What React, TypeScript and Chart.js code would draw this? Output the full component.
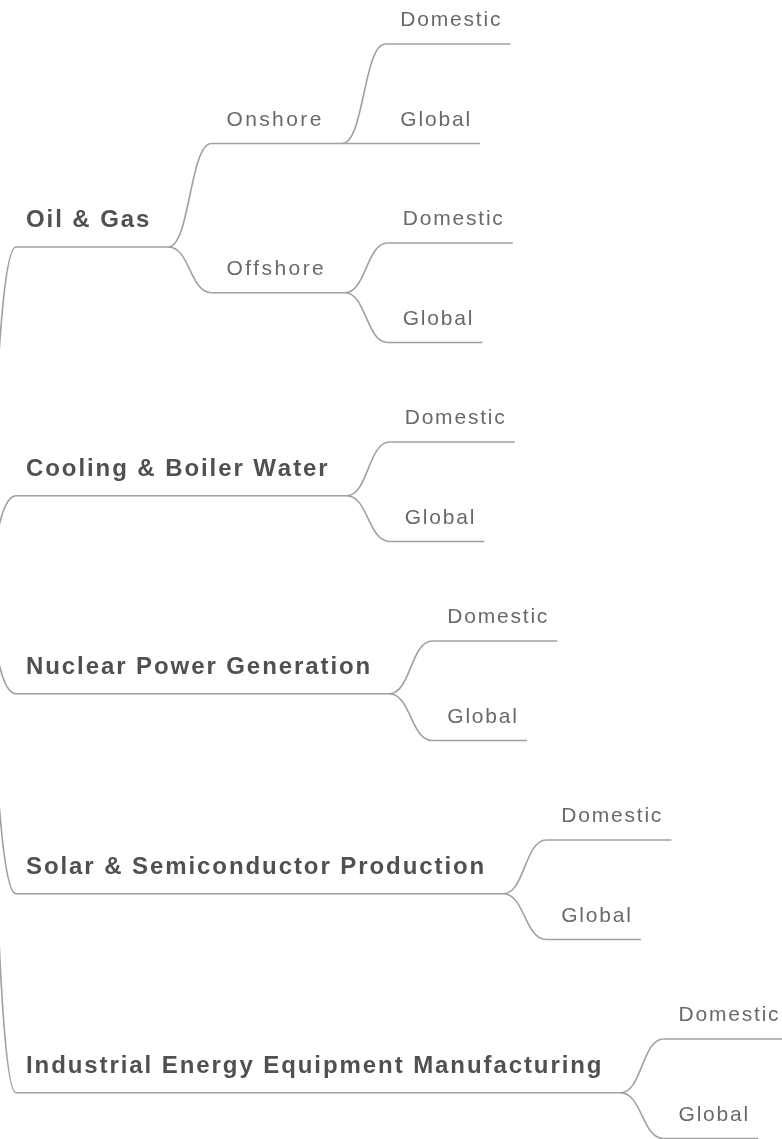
import React, { useEffect, useRef } from "react";
import { Chart, registerables } from "chart.js";

Chart.register(...registerables);

// ---- data (tree structure; rows are the vertical positions, in leaf-row units) ----
const rootRow = 5.54;
const categories = [
  "Oil & Gas",
  "Cooling & Boiler Water",
  "Nuclear Power Generation",
  "Solar & Semiconductor Production",
  "Industrial Energy Equipment Manufacturing",
];
const categoryRows = [2.04, 4.54, 6.53, 8.54, 10.54];
const oilGasBranches = ["Onshore", "Offshore"];
const oilGasBranchRows = [1.0, 2.5];
const marketLabels = ["Domestic", "Global"];
const marketRows = [0, 1, 2, 3, 4, 5, 6, 7, 8, 9, 10, 11];

// ---- styling ----
const FONT = '"Liberation Sans", Arial, Helvetica, sans-serif';
const LINE_COLOR = "#a0a0a0";
const LINE_WIDTH = 1.6;
const GAP = 43;
const ROOT_END = -27;
const STYLES: Record<string, any> = {
  category: { font: `bold 24px ${FONT}`, spacing: 1.92, color: "#505050", padL: 10, padR: 19, base: 19.5 },
  branch: { font: `21px ${FONT}`, spacing: 2.4, color: "#696969", padL: 15, padR: 21, base: 18 },
  leaf: { font: `21px ${FONT}`, spacing: 1.8, color: "#696969", padL: 15, padR: 10, base: 18 },
};

type TNode = {
  label: string;
  row: number;
  kind: string;
  children: TNode[];
  x0: number;
  x1: number;
};

function buildTree(): TNode {
  let leafIdx = 0;
  const leaves = (): TNode[] =>
    marketLabels.map((m) => ({ label: m, row: marketRows[leafIdx++], kind: "leaf", children: [], x0: 0, x1: 0 }));
  const root: TNode = { label: "", row: rootRow, kind: "root", children: [], x0: ROOT_END, x1: ROOT_END };
  categories.forEach((c, i) => {
    const node: TNode = { label: c, row: categoryRows[i], kind: "category", children: [], x0: 0, x1: 0 };
    if (i === 0) {
      node.children = oilGasBranches.map((b, j) => ({
        label: b,
        row: oilGasBranchRows[j],
        kind: "branch",
        children: leaves(),
        x0: 0,
        x1: 0,
      }));
    } else {
      node.children = leaves();
    }
    root.children.push(node);
  });
  return root;
}

function textWidth(ctx: CanvasRenderingContext2D, text: string, style: any) {
  ctx.font = style.font;
  let w = 0;
  for (let i = 0; i < text.length; i++) {
    w += ctx.measureText(text[i]).width;
    if (i < text.length - 1) w += style.spacing;
  }
  return w;
}

function drawSpaced(ctx: CanvasRenderingContext2D, text: string, x: number, y: number, style: any) {
  ctx.font = style.font;
  ctx.fillStyle = style.color;
  ctx.textBaseline = "alphabetic";
  ctx.textAlign = "left";
  let cx = x;
  for (let i = 0; i < text.length; i++) {
    ctx.fillText(text[i], cx, y);
    cx += ctx.measureText(text[i]).width + style.spacing;
  }
}

function layout(node: TNode, ctx: CanvasRenderingContext2D) {
  node.children.forEach((ch) => {
    const st = STYLES[ch.kind];
    ch.x0 = node.x1 + GAP;
    ch.x1 = ch.x0 + st.padL + textWidth(ctx, ch.label, st) + st.padR;
    layout(ch, ctx);
  });
}

function flatten(node: TNode, out: TNode[] = []) {
  out.push(node);
  node.children.forEach((c) => flatten(c, out));
  return out;
}

export default function App() {
  const ref = useRef<HTMLCanvasElement | null>(null);

  useEffect(() => {
    const canvas = ref.current;
    if (!canvas) return;
    const measureCtx = document.createElement("canvas").getContext("2d") as CanvasRenderingContext2D;
    const root = buildTree();
    layout(root, measureCtx);
    const nodes = flatten(root).filter((n) => n.kind !== "root");

    const datasets = nodes.map((n) => ({
      type: "line" as const,
      label: n.label,
      data: [
        { x: n.x0, y: n.row },
        { x: n.x1, y: n.row },
      ],
      borderColor: LINE_COLOR,
      borderWidth: LINE_WIDTH,
      pointRadius: 0,
      showLine: true,
      fill: false,
      tension: 0,
    }));

    const linksPlugin = {
      id: "mindmapLinks",
      beforeDatasetsDraw(chart: any) {
        const { ctx, scales } = chart;
        const xs = scales.x;
        const ys = scales.y;
        ctx.save();
        ctx.strokeStyle = LINE_COLOR;
        ctx.lineWidth = LINE_WIDTH;
        const walk = (p: TNode) => {
          p.children.forEach((c) => {
            const sx = xs.getPixelForValue(p.x1);
            const sy = ys.getPixelForValue(p.row);
            const tx = xs.getPixelForValue(c.x0);
            const ty = ys.getPixelForValue(c.row);
            const mx = (sx + tx) / 2;
            ctx.beginPath();
            ctx.moveTo(sx, sy);
            ctx.bezierCurveTo(mx, sy, mx, ty, tx, ty);
            ctx.stroke();
            walk(c);
          });
        };
        walk(root);
        ctx.restore();
      },
    };

    const labelsPlugin = {
      id: "mindmapLabels",
      afterDatasetsDraw(chart: any) {
        const { ctx, scales } = chart;
        ctx.save();
        nodes.forEach((n) => {
          const st = STYLES[n.kind];
          const x = scales.x.getPixelForValue(n.x0) + st.padL;
          const y = scales.y.getPixelForValue(n.row) - st.base;
          drawSpaced(ctx, n.label, x, y, st);
        });
        ctx.restore();
      },
    };

    // y scale in leaf-row units: row 0 sits at 44px, rows 99.5px apart
    const rowTop = -44 / 99.5;
    const rowBottom = (1139 - 44) / 99.5;

    const chart = new Chart(canvas, {
      type: "scatter",
      data: { datasets: datasets as any },
      options: {
        animation: false,
        responsive: false,
        maintainAspectRatio: false,
        devicePixelRatio: 1,
        layout: { padding: 0 },
        events: [],
        scales: {
          x: { type: "linear", min: 0, max: 782, display: false },
          y: { type: "linear", min: rowTop, max: rowBottom, reverse: true, display: false },
        },
        plugins: {
          legend: { display: false },
          tooltip: { enabled: false },
          title: { display: false },
        },
      },
      plugins: [linksPlugin, labelsPlugin],
    });
    return () => chart.destroy();
  }, []);

  return (
    <div style={{ position: "fixed", left: 0, top: 0, width: 782, height: 1139, background: "#ffffff" }}>
      <canvas ref={ref} width={782} height={1139} style={{ display: "block", width: 782, height: 1139 }} />
    </div>
  );
}
